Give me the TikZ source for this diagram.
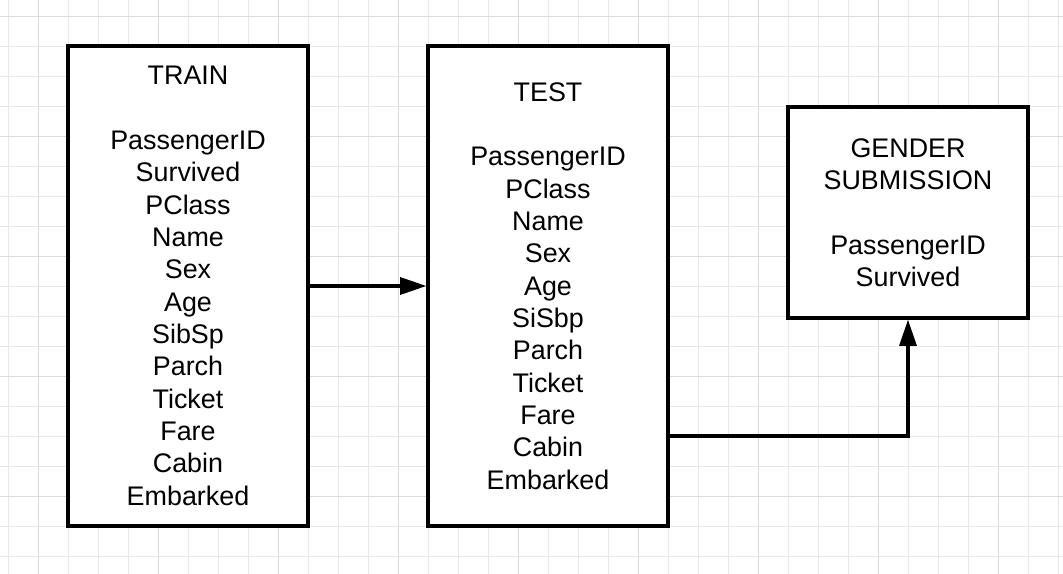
\documentclass[tikz,border=0pt]{standalone}
\usepackage{fontspec}
\setmainfont{Liberation Sans}
\usetikzlibrary{positioning,arrows.meta}

\begin{document}
\begin{tikzpicture}[
  x=0.02cm, y=-0.02cm,
  table/.style={draw, fill=white, line width=1.8pt, align=center,
                minimum width=4.8cm, inner sep=0pt,
                font=\fontsize{15.3}{18.4}\selectfont},
  arr/.style={-{Triangle[length=15pt, width=9.6pt]}, line width=2.1pt},
  minor/.style={draw=black!9, line width=0.5pt},
  major/.style={draw=black!14, line width=0.5pt}
]
\useasboundingbox (0,0) rectangle (1063,574);
\fill[white] (0,0) rectangle (1063,574);

% background grid
\foreach \gx in {8,38,...,1058} \draw[minor] (\gx,0) -- (\gx,574);
\foreach \gy in {16,46,...,574} \draw[minor] (0,\gy) -- (1063,\gy);
\foreach \gx in {38,158,...,1058} \draw[major] (\gx,0) -- (\gx,574);
\foreach \gy in {16,136,...,574} \draw[major] (0,\gy) -- (1063,\gy);

% tables
\node[table, minimum height=9.6cm] (train) at (188,286)
  {TRAIN\\[18.4pt]PassengerID\\Survived\\PClass\\Name\\Sex\\Age\\SibSp\\Parch\\Ticket\\Fare\\Cabin\\Embarked};
\node[table, minimum height=9.6cm] (test) at (548,286)
  {TEST\\[18.4pt]PassengerID\\PClass\\Name\\Sex\\Age\\SiSbp\\Parch\\Ticket\\Fare\\Cabin\\Embarked};
\node[table, minimum height=4.22cm] (gender) at (908,212.5)
  {GENDER\\SUBMISSION\\[18.4pt]PassengerID\\Survived};

% connectors
\coordinate (bend) at (908,436);
\draw[arr] (train.east) -- (test.west);
\draw[arr] (test.east |- bend) -- (bend) -- (gender.south);
\end{tikzpicture}
\end{document}
